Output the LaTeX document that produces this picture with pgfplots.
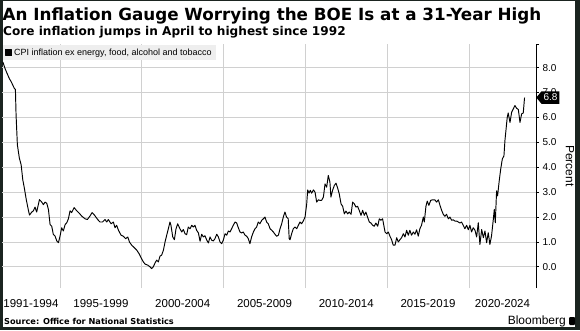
\documentclass[border=0pt]{standalone}
\usepackage{pgfplots}
\pgfplotsset{compat=1.18}
\usepackage{pgfplotstable}
\usepackage{fontspec}
\setmainfont{Liberation Sans}
\newfontfamily\titlefont{DejaVu Sans}
\usetikzlibrary{shapes.symbols}
\definecolor{framec}{HTML}{1B2420}
\definecolor{gridc}{HTML}{D0D0D0}
\definecolor{legbg}{HTML}{EEEEEE}

\pgfplotstableread{
x y
1991.50 8.23
1991.64 7.96
1991.74 7.80
1991.90 7.56
1992.00 7.45
1992.11 7.30
1992.21 7.16
1992.27 7.13
1992.31 6.10
1992.39 4.90
1992.51 4.37
1992.62 4.10
1992.72 3.50
1992.82 3.15
1992.92 2.75
1993.04 2.35
1993.13 2.08
1993.27 2.20
1993.37 2.25
1993.47 2.40
1993.57 2.20
1993.74 2.70
1993.88 2.60
1993.98 2.50
1994.08 2.60
1994.19 2.55
1994.29 2.30
1994.39 1.70
1994.49 1.63
1994.59 1.30
1994.69 1.24
1994.80 1.04
1994.90 0.97
1995.00 1.24
1995.10 1.57
1995.20 1.44
1995.31 1.70
1995.41 1.77
1995.51 1.93
1995.61 2.25
1995.71 2.18
1995.86 2.38
1996.02 2.25
1996.18 2.15
1996.32 2.04
1996.53 1.93
1996.67 1.90
1996.83 2.04
1996.96 2.18
1997.10 2.08
1997.30 1.90
1997.44 1.80
1997.59 1.80
1997.75 1.90
1997.85 1.80
1997.95 1.90
1998.12 1.73
1998.26 1.80
1998.36 1.57
1998.46 1.67
1998.57 1.47
1998.73 1.27
1998.87 1.23
1999.01 1.13
1999.14 1.20
1999.24 1.00
1999.38 0.87
1999.54 0.77
1999.69 0.67
1999.83 0.53
1999.95 0.37
2000.09 0.20
2000.20 0.11
2000.36 0.07
2000.50 0.00
2000.60 -0.07
2000.70 0.00
2000.81 0.16
2000.91 0.27
2001.01 0.20
2001.11 0.43
2001.21 0.47
2001.32 0.67
2001.42 1.00
2001.52 1.27
2001.62 1.53
2001.72 1.80
2001.78 1.67
2001.89 1.20
2001.99 1.09
2002.09 1.53
2002.19 1.73
2002.33 1.53
2002.44 1.40
2002.54 1.50
2002.64 1.33
2002.74 1.29
2002.84 1.60
2002.95 1.53
2003.05 1.67
2003.15 1.60
2003.25 1.67
2003.35 1.47
2003.46 1.36
2003.56 1.03
2003.66 1.31
2003.76 1.20
2003.86 1.25
2003.97 1.07
2004.07 0.96
2004.17 1.20
2004.27 1.07
2004.37 1.04
2004.47 1.13
2004.58 1.31
2004.68 1.20
2004.78 1.00
2004.88 0.93
2004.98 1.07
2005.09 1.33
2005.19 1.27
2005.29 1.44
2005.39 1.40
2005.49 1.53
2005.59 1.67
2005.70 1.80
2005.80 1.76
2005.90 1.57
2006.00 1.40
2006.10 1.36
2006.20 1.40
2006.31 1.27
2006.41 1.23
2006.51 1.13
2006.61 0.93
2006.71 1.20
2006.82 1.40
2006.92 1.53
2007.02 1.60
2007.12 1.80
2007.22 1.73
2007.33 1.87
2007.43 1.93
2007.53 2.00
2007.63 1.80
2007.73 1.73
2007.84 1.53
2007.94 1.47
2008.04 1.40
2008.14 1.31
2008.24 1.23
2008.35 1.27
2008.45 1.53
2008.55 1.73
2008.65 2.00
2008.75 2.20
2008.85 2.00
2008.95 1.93
2009.01 1.13
2009.06 1.09
2009.16 1.33
2009.26 1.53
2009.36 1.60
2009.47 1.53
2009.57 1.67
2009.67 1.80
2009.77 1.73
2009.87 1.84
2009.98 2.00
2010.08 2.53
2010.14 3.09
2010.22 2.96
2010.30 3.07
2010.38 2.96
2010.49 3.09
2010.59 3.00
2010.69 2.60
2010.79 2.69
2010.89 2.67
2010.99 2.67
2011.10 2.80
2011.20 3.33
2011.30 3.20
2011.40 3.67
2011.50 3.40
2011.56 2.80
2011.67 3.09
2011.77 3.27
2011.87 3.36
2011.97 3.17
2012.07 2.93
2012.18 2.53
2012.28 2.43
2012.38 2.13
2012.48 2.24
2012.58 2.13
2012.68 2.20
2012.79 2.11
2012.89 2.60
2012.99 2.53
2013.09 2.40
2013.19 2.43
2013.29 2.27
2013.40 2.07
2013.50 2.27
2013.60 2.07
2013.70 2.20
2013.80 2.00
2013.91 1.80
2014.01 1.76
2014.11 1.67
2014.21 1.63
2014.31 1.76
2014.42 1.63
2014.52 1.93
2014.62 1.87
2014.72 1.93
2014.87 1.40
2014.97 1.33
2015.07 1.40
2015.17 1.23
2015.27 1.09
2015.37 0.87
2015.48 0.87
2015.58 1.17
2015.68 1.00
2015.78 1.09
2015.88 1.17
2015.99 1.33
2016.09 1.20
2016.19 1.47
2016.29 1.27
2016.39 1.47
2016.49 1.27
2016.60 1.40
2016.70 1.31
2016.80 1.49
2016.90 1.23
2017.00 1.53
2017.10 1.67
2017.21 2.00
2017.27 1.80
2017.37 2.43
2017.45 2.64
2017.55 2.47
2017.66 2.67
2017.76 2.69
2017.92 2.69
2018.02 2.60
2018.13 2.69
2018.23 2.47
2018.33 2.27
2018.43 2.11
2018.53 2.03
2018.63 2.11
2018.74 1.93
2018.84 2.00
2018.94 1.87
2019.04 1.89
2019.14 1.84
2019.25 1.84
2019.35 1.80
2019.45 1.76
2019.55 1.80
2019.65 1.67
2019.75 1.53
2019.86 1.67
2019.96 1.49
2020.06 1.67
2020.16 1.40
2020.26 1.57
2020.37 1.47
2020.47 1.20
2020.57 1.77
2020.67 0.90
2020.78 1.50
2020.88 1.17
2020.98 1.44
2021.08 0.97
2021.18 1.37
2021.28 0.90
2021.38 1.24
2021.49 1.91
2021.55 2.31
2021.61 1.77
2021.69 3.05
2021.75 2.85
2021.85 3.45
2021.94 3.92
2022.04 4.33
2022.14 4.46
2022.20 5.07
2022.26 5.47
2022.34 6.00
2022.40 6.18
2022.51 5.80
2022.61 6.21
2022.71 6.34
2022.81 6.48
2022.91 6.37
2023.02 6.32
2023.12 5.80
2023.22 6.14
2023.32 6.18
2023.40 6.80
}\cpi

\begin{document}
\begin{tikzpicture}
\path[use as bounding box] (0,0) rectangle (580pt,330pt);
\fill[framec] (0,0) rectangle (580pt,330pt);
\fill[white] (2.5pt,3pt) rectangle (575pt,329pt);
\begin{axis}[
  at={(2pt,42pt)}, anchor=south west, scale only axis,
  width=534pt, height=244pt,
  xmin=1991.45, xmax=2024.1, ymin=-0.85, ymax=8.95,
  axis line style={draw=none},
  xtick pos=left, xticklabel pos=left,
  ytick pos=right, yticklabel pos=right,
  xtick={1993.22,1997.5,2002.5,2007.5,2012.5,2017.5,2022.05},
  xticklabels={1991-1994,1995-1999,2000-2004,2005-2009,2010-2014,2015-2019,2020-2024},
  xtick style={white},
  xticklabel style={font=\fontsize{11.5}{13}\selectfont, yshift=-5pt},
  ytick={0,1,2,3,4,5,6,7,8},
  minor ytick={8.95},
  yticklabel style={font=\fontsize{10}{12}\selectfont, /pgf/number format/fixed, /pgf/number format/fixed zerofill, /pgf/number format/precision=1},
  /pgf/number format/assume math mode=true,
  ytick style={black, line width=0.8pt},
  tick align=outside, major tick length=3pt, minor tick length=3pt,
  extra description/.code={\draw[black, line width=0.8pt] (rel axis cs:1,0) -- (rel axis cs:1,1);},
  legend style={at={(0,1)}, anchor=north west, xshift=1pt, yshift=-1pt, fill=legbg, draw=none,
    font=\fontsize{9}{10}\selectfont, inner xsep=2pt, inner ysep=1.5pt, legend cell align=left},
  legend image code/.code={\fill[black] (0pt,-3pt) rectangle (6pt,3pt);},
  clip=false,
]
\pgfplotsinvokeforeach{0,1,2,3,4,5,6,7,8}{
  \draw[gridc, line width=0.7pt] (axis cs:1991.45,#1) -- (axis cs:2024.1,#1);
}
\pgfplotsinvokeforeach{1995,2000,2005,2010,2015,2020}{
  \draw[gridc, line width=0.7pt] (axis cs:#1,-0.85) -- (axis cs:#1,8.95);
}
\addplot[black, line width=0.95pt, line join=round] table[x=x, y=y] {\cpi};
\addlegendentry{CPI inflation ex energy, food, alcohol and tobacco}
\coordinate (lastlab) at (axis cs:2024.1,6.8);
\end{axis}
\node[signal, signal to=west, signal pointer angle=100, fill=black, text=white, anchor=west,
  inner xsep=2pt, inner ysep=1pt, minimum height=12.5pt, font=\fontsize{10}{12}\selectfont]
  at (lastlab) {6.8};
\node[rotate=-90, font=\fontsize{12}{14}\selectfont] at (570pt,164pt) {Percent};
\node[anchor=base west, inner sep=0pt, font=\titlefont\bfseries\fontsize{16.75}{18}\selectfont] at (2.5pt,309pt) {An Inflation Gauge Worrying the BOE Is at a 31-Year High};
\node[anchor=base west, inner sep=0pt, font=\titlefont\bfseries\fontsize{12.1}{14}\selectfont] at (3pt,294.5pt) {Core inflation jumps in April to highest since 1992};
\node[anchor=base west, inner sep=0pt, font=\titlefont\bfseries\fontsize{8.2}{10}\selectfont] at (4pt,6pt) {Source: Office for National Statistics};
\node[anchor=base east, inner sep=0pt, font=\fontsize{12}{14}\selectfont] at (566pt,5.5pt) {Bloomberg};
\fill[black, rounded corners=1pt] (569pt,5pt) rectangle (575pt,13pt);
\end{tikzpicture}
\end{document}
